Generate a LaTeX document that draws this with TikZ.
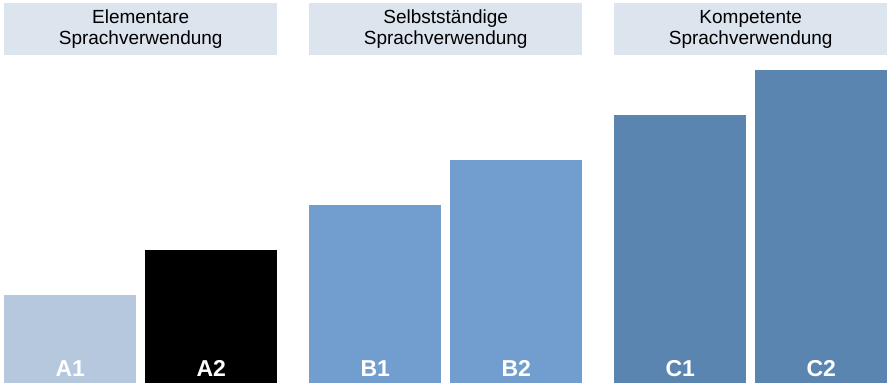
\documentclass[tikz,border=0pt]{standalone}
\usepackage{fontspec}
\setmainfont{Liberation Sans}
\definecolor{hdr}{HTML}{DCE4EE}
\definecolor{cA}{HTML}{B6C8DD}
\definecolor{cB}{HTML}{729ECF}
\definecolor{cC}{HTML}{5A85B1}
\begin{document}
\begin{tikzpicture}[x=1pt,y=-1pt,
  hdrbox/.style={fill=hdr,draw=none,inner sep=0pt,anchor=north west,minimum width=273pt,minimum height=52pt,align=center,font=\fontsize{19}{20.5}\selectfont},
  barbox/.style={draw=none,inner sep=0pt,anchor=south west,minimum width=132pt},
  barlbl/.style={text=white,font=\fontsize{23}{24}\selectfont\bfseries,anchor=base}]
\useasboundingbox (0,0) rectangle (890,386);
\node[hdrbox] (h1) at (4,3) {Elementare\\Sprachverwendung};
\node[hdrbox] (h2) at (309,3) {Selbstständige\\Sprachverwendung};
\node[hdrbox] (h3) at (614,3) {Kompetente\\Sprachverwendung};
\node[barbox,fill=cA,minimum height=88pt] (a1) at (4,383) {};
\node[barbox,fill=black,minimum height=133pt] (a2) at (145,383) {};
\node[barbox,fill=cB,minimum height=178pt] (b1) at (309,383) {};
\node[barbox,fill=cB,minimum height=223pt] (b2) at (450,383) {};
\node[barbox,fill=cC,minimum height=268pt] (c1) at (614,383) {};
\node[barbox,fill=cC,minimum height=313pt] (c2) at (755,383) {};
\foreach \n/\t in {a1/A1,a2/A2,b1/B1,b2/B2,c1/C1,c2/C2}
  \node[barlbl] (l\n) at ([yshift=6.5pt]\n.south) {\t};
\end{tikzpicture}
\end{document}
